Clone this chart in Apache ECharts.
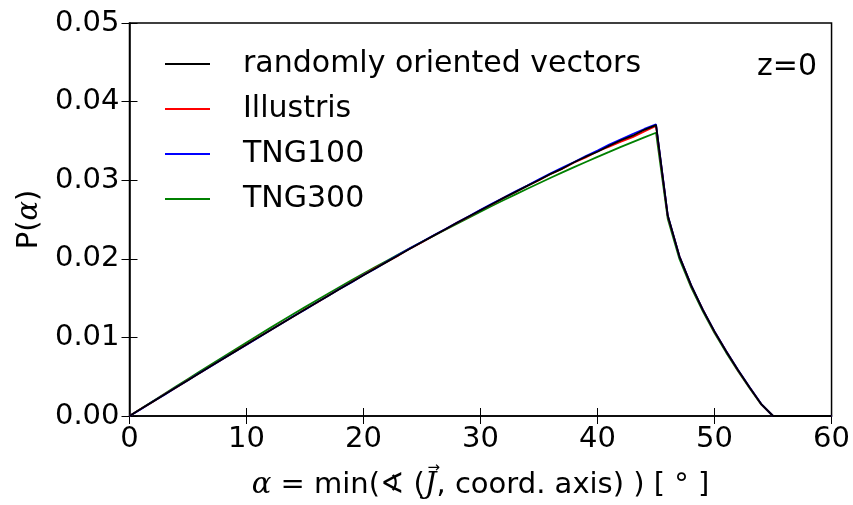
<!DOCTYPE html>
<html>
<head>
<meta charset="utf-8">
<script src="https://cdn.jsdelivr.net/npm/echarts@6/dist/echarts.min.js"></script>
<style>
html,body{margin:0;padding:0;background:#fff;}
#chart{width:853px;height:505px;}
</style>
</head>
<body>
<div id="chart"></div>
<script>
// alpha in degrees
const alpha = [0,1,2,3,4,5,6,7,8,9,10,11,12,13,14,15,16,17,18,19,20,21,22,23,24,25,26,27,28,29,30,31,32,33,34,35,36,37,38,39,40,41,42,43,44,45,46,47,48,49,50,51,52,53,54,55,56,57,58,59,60];

const randomVectors = [0,0.00091,0.00183,0.00274,0.00365,0.00456,0.00547,0.00638,0.00729,0.00819,0.00909,0.00999,0.01089,0.01178,0.01267,0.01355,0.01443,0.01531,0.01618,0.01705,0.01791,0.01876,0.01961,0.02046,0.0213,0.02213,0.02295,0.02377,0.02458,0.02538,0.02618,0.02697,0.02775,0.02852,0.02928,0.03003,0.0308,0.03148,0.03228,0.03299,0.03362,0.03438,0.03508,0.03566,0.03641,0.037,0.0255,0.02028,0.01661,0.01351,0.01074,0.00821,0.00585,0.00362,0.0015,0,0,0,0,0,0];

const illustris = [0,0.00092,0.00182,0.00276,0.00364,0.00458,0.00546,0.0064,0.00728,0.00822,0.00908,0.01001,0.01088,0.0118,0.01265,0.01357,0.01441,0.01534,0.01622,0.01709,0.01798,0.01882,0.01963,0.02044,0.02133,0.02211,0.02297,0.02375,0.0246,0.02536,0.0262,0.02694,0.02778,0.0285,0.0293,0.03,0.03081,0.03146,0.03226,0.0329,0.03368,0.03428,0.0349,0.03548,0.0362,0.0369,0.02545,0.02032,0.01658,0.01354,0.01071,0.00823,0.00583,0.00364,0.00149,0,0,0,0,0,0];

const tng100 = [0,0.0009,0.00184,0.00272,0.00366,0.00454,0.00549,0.00636,0.0073,0.00817,0.00906,0.00996,0.01087,0.01176,0.01268,0.01352,0.01445,0.01529,0.01621,0.01703,0.01794,0.01874,0.01965,0.02052,0.02136,0.02216,0.02299,0.0238,0.02462,0.02542,0.02622,0.02702,0.02779,0.02858,0.02932,0.03012,0.03088,0.03162,0.03232,0.03308,0.03378,0.03452,0.0352,0.03588,0.03652,0.0371,0.02555,0.02031,0.01664,0.01353,0.01077,0.00824,0.00588,0.00365,0.00152,0,0,0,0,0,0];

const tng300 = [0,0.00094,0.00189,0.00284,0.00378,0.00472,0.00566,0.00659,0.00752,0.00844,0.00936,0.01027,0.01118,0.01208,0.01297,0.01385,0.01472,0.01559,0.01644,0.01729,0.01812,0.01894,0.01975,0.02056,0.02136,0.02215,0.02293,0.02371,0.02448,0.02524,0.026,0.02675,0.02748,0.0282,0.02891,0.02961,0.03031,0.03099,0.03167,0.03232,0.03297,0.0336,0.03424,0.03485,0.03545,0.03604,0.0251,0.01998,0.01636,0.01331,0.01056,0.00806,0.00573,0.00352,0.00145,0,0,0,0,0,0];

const seriesNames = ['randomly oriented vectors','Illustris','TNG100','TNG300'];
const seriesColors = ['#000000','#ff0000','#0000ff','#008000'];
const xTickLabels = ['0','10','20','30','40','50','60'];
const yTickLabels = ['0.00','0.01','0.02','0.03','0.04','0.05'];

const FONT = 'DejaVu Sans';
const SERIF = 'DejaVu Serif';
const FS = 29;

// x-axis name pieces
const xnA = 'α', xnB = ' = min(∢ (', xnJ = 'J', xnC = ', coord. axis) ) [ ° ]';

const chart = echarts.init(document.getElementById('chart'), null, {renderer:'canvas'});
function pairs(arr){ return alpha.map((a,i)=>[a, arr[i]]); }

const allData = [randomVectors, illustris, tng100, tng300];
const zOrder = [5, 3, 4, 2];
const tickStyle = {show:true, inside:true, length:8, lineStyle:{color:'#000', width:1}};

const GRID = {left:129.5, right:21, top:23, bottom:87.5};
const X_NAME_GAP = 55;

// measure to place the vector arrow over J
const cv = document.createElement('canvas').getContext('2d');
function w(t, f){ cv.font = f; return cv.measureText(t).width; }
const fSans = FS + 'px "' + FONT + '"';
const fSerifI = 'italic ' + FS + 'px "' + SERIF + '"';
const wA = w(xnA, fSerifI), wB = w(xnB, fSans), wJ = w(xnJ, fSerifI), wC = w(xnC, fSans);
const total = wA + wB + wJ + wC;
const cx = GRID.left + (853 - GRID.left - GRID.right) / 2;
const jStart = cx - total / 2 + wA + wB;
const arrowX = jStart + wJ / 2 + 3;
const arrowY = 505 - GRID.bottom + X_NAME_GAP - 4;

const option = {
  backgroundColor:'#fff',
  animation:false,
  textStyle:{fontFamily:FONT},
  title:{
    text:'z=0', right:31, top:47,
    textStyle:{fontFamily:FONT, fontSize:30, fontWeight:'normal', color:'#000', lineHeight:30}
  },
  grid:Object.assign({show:true, borderColor:'#000', borderWidth:1.5, backgroundColor:'transparent'}, GRID),
  legend:{
    data:seriesNames,
    orient:'vertical',
    left:160, top:44,
    itemWidth:45, itemHeight:2, itemGap:15,
    icon:'rect',
    textStyle:{fontFamily:FONT, fontSize:30, color:'#000', lineHeight:30, padding:[0,0,0,28]}
  },
  graphic:[{
    type:'text', x:arrowX, y:arrowY,
    style:{text:'→', fontFamily:FONT, fontSize:15, fill:'#000', align:'center', verticalAlign:'middle'},
    z:10
  }],
  xAxis:[{
    type:'value', min:0, max:60, interval:10, position:'bottom',
    axisLine:{show:true, onZero:false, lineStyle:{color:'#000', width:1.5}},
    axisTick:tickStyle,
    splitLine:{show:false},
    axisLabel:{fontFamily:FONT, fontSize:FS, color:'#000', margin:9,
      formatter:(v)=>xTickLabels[Math.round(v/10)]},
    name:'{a|' + xnA + '}' + xnB + '{j|' + xnJ + '}' + xnC,
    nameLocation:'middle', nameGap:X_NAME_GAP,
    nameTextStyle:{fontFamily:FONT, fontSize:FS, color:'#000',
      rich:{a:{fontFamily:SERIF, fontStyle:'italic', fontSize:FS, color:'#000'},
            j:{fontFamily:SERIF, fontStyle:'italic', fontSize:FS, color:'#000'}}}
  },{
    type:'value', min:0, max:60, interval:10, position:'top',
    axisLine:{show:false}, axisTick:tickStyle, axisLabel:{show:false}, splitLine:{show:false}
  }],
  yAxis:[{
    type:'value', min:0, max:0.05, interval:0.01, position:'left',
    axisLine:{show:true, onZero:false, lineStyle:{color:'#000', width:1.5}},
    axisTick:tickStyle,
    splitLine:{show:false},
    axisLabel:{fontFamily:FONT, fontSize:FS, color:'#000', margin:10,
      formatter:(v)=>yTickLabels[Math.round(v*100)]},
    name:'P({a|α})', nameLocation:'middle', nameGap:73, nameRotate:90,
    nameTextStyle:{fontFamily:FONT, fontSize:FS, color:'#000',
      rich:{a:{fontFamily:SERIF, fontStyle:'italic', fontSize:FS, color:'#000'}}}
  },{
    type:'value', min:0, max:0.05, interval:0.01, position:'right',
    axisLine:{show:false}, axisTick:tickStyle, axisLabel:{show:false}, splitLine:{show:false}
  }],
  series: seriesNames.map((n,i)=>({
    name:n, type:'line', xAxisIndex:0, yAxisIndex:0,
    data:pairs(allData[i]),
    showSymbol:false, symbol:'none',
    z:zOrder[i],
    lineStyle:{color:seriesColors[i], width:1.8},
    itemStyle:{color:seriesColors[i]}
  }))
};
chart.setOption(option);
</script>
</body>
</html>
